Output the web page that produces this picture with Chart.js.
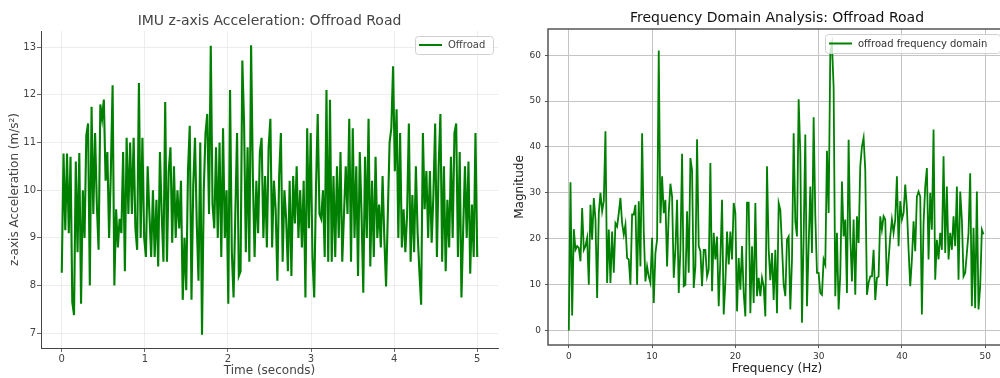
<!DOCTYPE html>
<html>
<head>
<meta charset="utf-8">
<script src="https://cdn.jsdelivr.net/npm/chart.js@4.4.1/dist/chart.umd.min.js"></script>
<style>
    html, body { margin: 0; padding: 0; background: #fff; overflow: hidden; }
    #wrap { position: relative; width: 1000px; height: 378px; }
    canvas { position: absolute; top: 0; }
</style>
</head>
<body>
<div id="wrap">
    <canvas id="accel-chart" width="500" height="378" style="left:0;"></canvas>
    <canvas id="freq-chart" width="510" height="378" style="left:500px;"></canvas>
</div>
<script>
// --- DATA: time domain (left) ---
const accelTitle = 'IMU z-axis Acceleration: Offroad Road';
const accelSeriesName = 'Offroad';
const accelDuration = 5; // seconds spanned by the samples
const accelTicksX = [0, 1, 2, 3, 4, 5];
const accelTicksY = [7, 8, 9, 10, 11, 12, 13];
const accelValues = [
    8.27, 10.77, 9.16, 10.77, 9.1, 10.7, 7.65, 7.38, 10.6, 8.7,
    10.78, 7.62, 10.0, 9.0, 11.15, 11.4, 8.0, 11.75, 9.5, 11.2,
    9.7, 8.75, 11.8, 11.5, 11.9, 10.2, 10.8, 9.0, 10.4, 12.2,
    8.0, 9.6, 8.8, 9.4, 9.1, 10.8, 8.3, 11.1, 9.5, 11.0,
    9.5, 11.1, 9.2, 8.75, 12.25, 9.0, 11.1, 9.0, 8.6, 10.5,
    9.5, 8.6, 10.0, 8.6, 9.8, 8.4, 10.8, 9.5, 8.5, 11.85,
    8.5, 10.4, 10.9, 8.9, 10.5, 9.0, 10.0, 9.2, 10.2, 7.7,
    9.0, 7.9, 10.4, 11.35, 7.7, 10.1, 11.1, 9.3, 8.1, 11.0,
    6.97, 10.0, 11.2, 11.6, 9.5, 13.03, 9.7, 9.2, 10.9, 9.0,
    11.0, 8.6, 11.3, 9.0, 10.0, 7.62, 12.1, 8.7, 7.75, 9.5,
    11.2, 8.2, 8.3, 12.72, 11.4, 8.7, 10.9, 8.5, 13.04, 10.3,
    8.6, 10.2, 9.1, 10.8, 11.1, 9.0, 10.3, 8.8, 10.9, 11.5,
    8.8, 10.2, 9.6, 8.1, 10.3, 11.2, 8.5, 10.0, 9.4, 8.3,
    10.2, 8.2, 10.3, 9.3, 10.5, 9.0, 10.0, 8.8, 10.2, 7.75,
    11.3, 9.2, 11.2, 8.6, 7.75, 10.0, 11.6, 9.5, 9.4, 10.0,
    8.6, 12.1, 8.5, 11.9, 8.5, 10.3, 8.6, 10.5, 9.0, 10.8,
    8.5, 9.5, 10.5, 9.5, 11.5, 8.5, 11.3, 9.0, 10.5, 8.2,
    10.8, 9.5, 7.85, 10.7, 9.0, 11.5, 8.4, 10.2, 8.6, 10.7,
    9.0, 9.7, 8.8, 10.3, 9.0, 7.98, 9.5, 11.0, 11.3, 12.6,
    10.4, 11.7, 9.0, 11.2, 8.8, 9.6, 8.7, 9.5, 11.4, 8.5,
    9.9, 8.7, 10.5, 9.1, 8.3, 7.6, 11.2, 9.6, 10.4, 9.0,
    10.4, 8.9, 9.9, 11.4, 8.6, 10.5, 11.6, 8.5, 10.5, 8.3,
    9.8, 8.8, 10.7, 9.0, 11.2, 11.4, 8.6, 10.8, 7.75, 9.2,
    10.5, 9.0, 10.6, 8.25, 9.7, 8.6, 11.2, 8.6
];

// --- DATA: frequency domain (right) ---
const freqTitle = 'Frequency Domain Analysis: Offroad Road';
const freqSeriesName = 'offroad frequency domain';
const freqStep = 0.2; // Hz between bins
const freqTicksX = [0, 10, 20, 30, 40, 50];
const freqTicksY = [0, 10, 20, 30, 40, 50, 60];
const freqValues = [
    0, 32.3, 3.3, 22.1, 17.6, 18.4, 18, 15.1, 26.7, 17.6,
    18.4, 20.2, 10, 27.4, 19.8, 28.9, 24.2, 7.1, 25.6, 30,
    26, 28.2, 43.4, 10.4, 22, 10.4, 21.6, 12.6, 23.4, 22.7,
    25.6, 28.9, 23.4, 20.9, 23.1, 15.8, 15.5, 10, 25.3, 25.3,
    27.4, 10, 28.2, 14, 43, 21.6, 10.7, 14, 11.8, 10.4,
    20.2, 6, 16.9, 19.8, 61, 23.4, 33.6, 25.6, 28.5, 14,
    25.6, 32, 29.2, 11.5, 17.6, 28.5, 8.2, 17.6, 38.5, 9.7,
    10, 26, 12.6, 37.6, 35, 9.3, 14, 41.7,
    18.4, 17.3, 9.7, 17.6, 17.6, 11.8, 13.3, 36.5, 8.6, 21.3,
    15.5, 20.5, 5.3, 15.5, 28.5, 3.5, 10.5, 21.6, 14.4, 21.6,
    15.5, 27.8, 25.6, 4.2, 15.8, 8.9, 18.4, 8.2, 3.1, 27.9,
    27.9, 3.8, 18.4, 6, 27.8, 7.5, 11.5, 7.5, 11.5, 9.7,
    3.1, 35.8, 17.6, 11, 16.9, 6.7, 17.6, 3.8, 27.8, 26.3,
    18.4, 10, 7.5, 19.8, 20.5, 4.6, 15.5, 43, 23.8, 20.5,
    50.4, 38.7, 1.7, 20.5, 42.7, 5.3, 18.4, 31.4, 16.9, 46.5,
    25, 12.6, 12.6, 8.2, 7.8, 15.5, 14.4, 39.2, 25.6, 60.5,
    62.5, 53,
    7.5, 21.3, 4.6, 12.2, 32.5, 20.5, 24.2, 8.2, 41.6, 20.5,
    10.7, 24.2, 7.8, 24.9, 19.1, 35.8, 40.1, 42, 35, 7.8,
    10.4, 11.8, 11.8, 17.6, 6.7, 11.5, 11.8, 24.9, 22, 24.9,
    24.2, 9.7, 15.5, 20.5, 24.2, 21.3, 24.2, 33.6, 18.4, 28.2,
    24.2, 25.6, 31.8, 26.7, 17.6, 9.7, 15.5, 23.8, 17.3, 29.2,
    30.3, 29.2, 3.5, 23.4, 31.4, 35.4, 15.5, 30, 22, 43.8,
    11.1, 19.8, 15.5, 21.3, 17.6, 38, 16.9, 31.4, 15.5, 21.3,
    17.6, 24.9, 18.4, 31.4, 11.1, 30.3, 24.2, 11.8, 12.6, 16.9,
    21.3, 34.3, 5.3, 22.4, 4.9, 30.3, 4.6, 9.7, 22, 21
];

const FONT = "'DejaVu Sans', sans-serif";
const GREEN = '#008000';

// title, legend box and optional frame drawn on top of the plot
const overlay = {
    id: 'overlay',
    afterDraw(chart, args, o) {
        const { ctx, chartArea: a } = chart;
        ctx.save();
        if (o.frame) {
            ctx.strokeStyle = o.frame;
            ctx.lineWidth = 1.5;
            ctx.strokeRect(a.left, a.top, a.right - a.left, a.bottom - a.top);
        }
        ctx.font = o.titleFont;
        ctx.fillStyle = o.titleColor;
        ctx.textAlign = 'center';
        ctx.textBaseline = 'middle';
        ctx.fillText(o.title, (a.left + a.right) / 2, o.titleY);

        const L = o.legend;
        ctx.beginPath();
        ctx.roundRect(L.x + 0.5, L.y + 0.5, L.w, L.h, 3);
        ctx.fillStyle = 'rgba(255,255,255,0.8)';
        ctx.fill();
        ctx.strokeStyle = '#d0d0d0';
        ctx.lineWidth = 1;
        ctx.stroke();
        const my = L.y + L.h / 2;
        ctx.beginPath();
        ctx.moveTo(L.x + 4, my);
        ctx.lineTo(L.x + 27, my);
        ctx.strokeStyle = GREEN;
        ctx.lineWidth = 2;
        ctx.stroke();
        ctx.font = '10px ' + FONT;
        ctx.fillStyle = L.color;
        ctx.textAlign = 'left';
        ctx.fillText(L.text, L.x + 33, my + 0.5);
        ctx.restore();
    }
};

const fixedTicks = list => scale => { scale.ticks = list.map(v => ({ value: v })); };

function buildAccelChart() {
    const pts = accelValues.map((v, i) => ({ x: i * accelDuration / (accelValues.length - 1), y: v }));
    new Chart(document.getElementById('accel-chart'), {
        type: 'line',
        data: { datasets: [{ label: accelSeriesName, data: pts, borderColor: GREEN, borderWidth: 2.1, pointRadius: 0, tension: 0 }] },
        plugins: [overlay],
        options: {
            responsive: false, animation: false, devicePixelRatio: 1,
            layout: { padding: { top: 31, right: 2, left: 0, bottom: 0 } },
            plugins: {
                legend: { display: false }, tooltip: { enabled: false },
                overlay: {
                    title: accelTitle, titleY: 21, titleFont: '14px ' + FONT, titleColor: '#444',
                    legend: { x: 415, y: 36, w: 78, h: 18, text: accelSeriesName, color: '#444' }
                }
            },
            scales: {
                x: {
                    type: 'linear', min: -0.25, max: 5.25,
                    afterBuildTicks: fixedTicks(accelTicksX),
                    afterFit(s) { s.height = 30; },
                    grid: { color: '#e8e8e8', lineWidth: 0.8, tickColor: '#444', tickLength: 4 },
                    border: { display: true, color: '#444', width: 1 },
                    ticks: { color: '#444', font: { family: FONT, size: 10 }, padding: 1, maxRotation: 0 },
                    title: { display: true, text: 'Time (seconds)', color: '#444', font: { family: FONT, size: 12 }, padding: { top: 0, bottom: 0 } }
                },
                y: {
                    min: 6.69, max: 13.34,
                    afterBuildTicks: fixedTicks(accelTicksY),
                    afterFit(s) { s.width = 41; },
                    grid: { color: '#e8e8e8', lineWidth: 0.8, tickColor: '#444', tickLength: 4 },
                    border: { display: true, color: '#444', width: 1 },
                    ticks: { color: '#444', font: { family: FONT, size: 10 }, padding: 1 },
                    title: { display: true, text: 'z-axis Acceleration (m/s²)', color: '#444', font: { family: FONT, size: 12 }, padding: { top: 8, bottom: 0 } }
                }
            }
        }
    });
}

function buildFreqChart() {
    const pts = freqValues.map((v, i) => ({ x: i * freqStep, y: v }));
    new Chart(document.getElementById('freq-chart'), {
        type: 'line',
        data: { datasets: [{ label: freqSeriesName, data: pts, borderColor: GREEN, borderWidth: 1.8, pointRadius: 0, tension: 0 }] },
        plugins: [overlay],
        options: {
            responsive: false, animation: false, devicePixelRatio: 1,
            layout: { padding: { top: 29, right: 4, left: 0, bottom: 0 } },
            plugins: {
                legend: { display: false }, tooltip: { enabled: false },
                overlay: {
                    title: freqTitle, titleY: 18, titleFont: '14px ' + FONT, titleColor: '#111', frame: '#555',
                    legend: { x: 325, y: 34, w: 175, h: 19, text: freqSeriesName, color: '#333' }
                }
            },
            scales: {
                x: {
                    type: 'linear', min: -2.5, max: 52.5,
                    afterBuildTicks: fixedTicks(freqTicksX),
                    afterFit(s) { s.height = 33; },
                    grid: { color: '#c4c4c4', lineWidth: 1, tickColor: '#555', tickLength: 3 },
                    border: { display: false },
                    ticks: { color: '#333', font: { family: FONT, size: 9 }, padding: 3, maxRotation: 0 },
                    title: { display: true, text: 'Frequency (Hz)', color: '#222', font: { family: FONT, size: 12 }, padding: { top: 0, bottom: 2 } }
                },
                y: {
                    min: -3.13, max: 65.7,
                    afterBuildTicks: fixedTicks(freqTicksY),
                    afterFit(s) { s.width = 48; },
                    grid: { color: '#c4c4c4', lineWidth: 1, tickColor: '#555', tickLength: 3 },
                    border: { display: false },
                    ticks: { color: '#333', font: { family: FONT, size: 9 }, padding: 4 },
                    title: { display: true, text: 'Magnitude', color: '#222', font: { family: FONT, size: 12 }, padding: { top: 13, bottom: 0 } }
                }
            }
        }
    });
}

buildAccelChart();
buildFreqChart();
</script>
</body>
</html>
